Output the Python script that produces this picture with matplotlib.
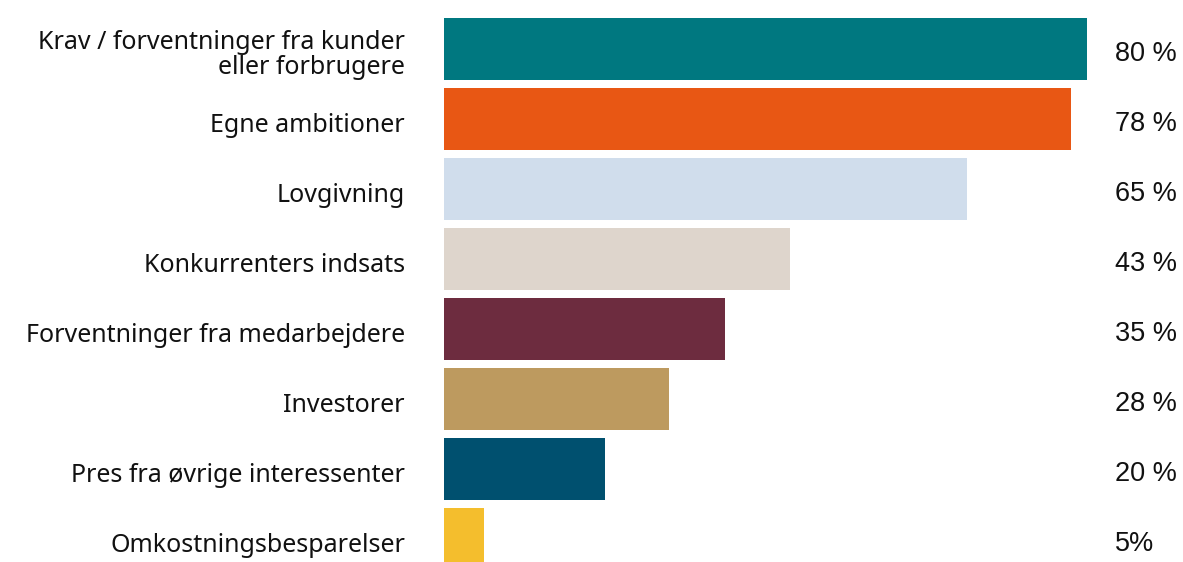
import matplotlib
matplotlib.use("Agg")
import matplotlib.pyplot as plt

# data
categories = [
    "Krav / forventninger fra kunder\neller forbrugere",
    "Egne ambitioner",
    "Lovgivning",
    "Konkurrenters indsats",
    "Forventninger fra medarbejdere",
    "Investorer",
    "Pres fra øvrige interessenter",
    "Omkostningsbesparelser",
]
values = [80, 78, 65, 43, 35, 28, 20, 5]
value_labels = ["80 %", "78 %", "65 %", "43 %", "35 %", "28 %", "20 %", "5%"]
colors = ["#007880", "#E85714", "#D0DDEC", "#DED5CC",
          "#6D2C3F", "#BD9A5F", "#00506F", "#F4BE2D"]

fig = plt.figure(figsize=(11.83, 5.62), dpi=100)
ax = fig.add_axes([444 / 1183, 0, 1 - 444 / 1183, 1])

pos = list(range(len(values)))
ax.barh(pos, values, height=0.886, color=colors)

ax.set_ylim(7.33, -0.7)
ax.set_xlim(0, 91.9)

ax.set_yticks([])
ax.set_xticks([])
for s in ax.spines.values():
    s.set_visible(False)

# category labels, sitting a little below the bar centre like the original
for p, lab in zip(pos, categories):
    ax.text(-4.85, p + 0.09, lab, ha="right", va="center", fontsize=18,
            family="Noto Sans", color="#111111", linespacing=1.02,
            clip_on=False)

for p, lab in zip(pos, value_labels):
    ax.text(83.45, p + 0.07, lab, ha="left", va="center", fontsize=19.5,
            family="Liberation Sans", color="#111111")

fig.savefig("out.png", dpi=100)
